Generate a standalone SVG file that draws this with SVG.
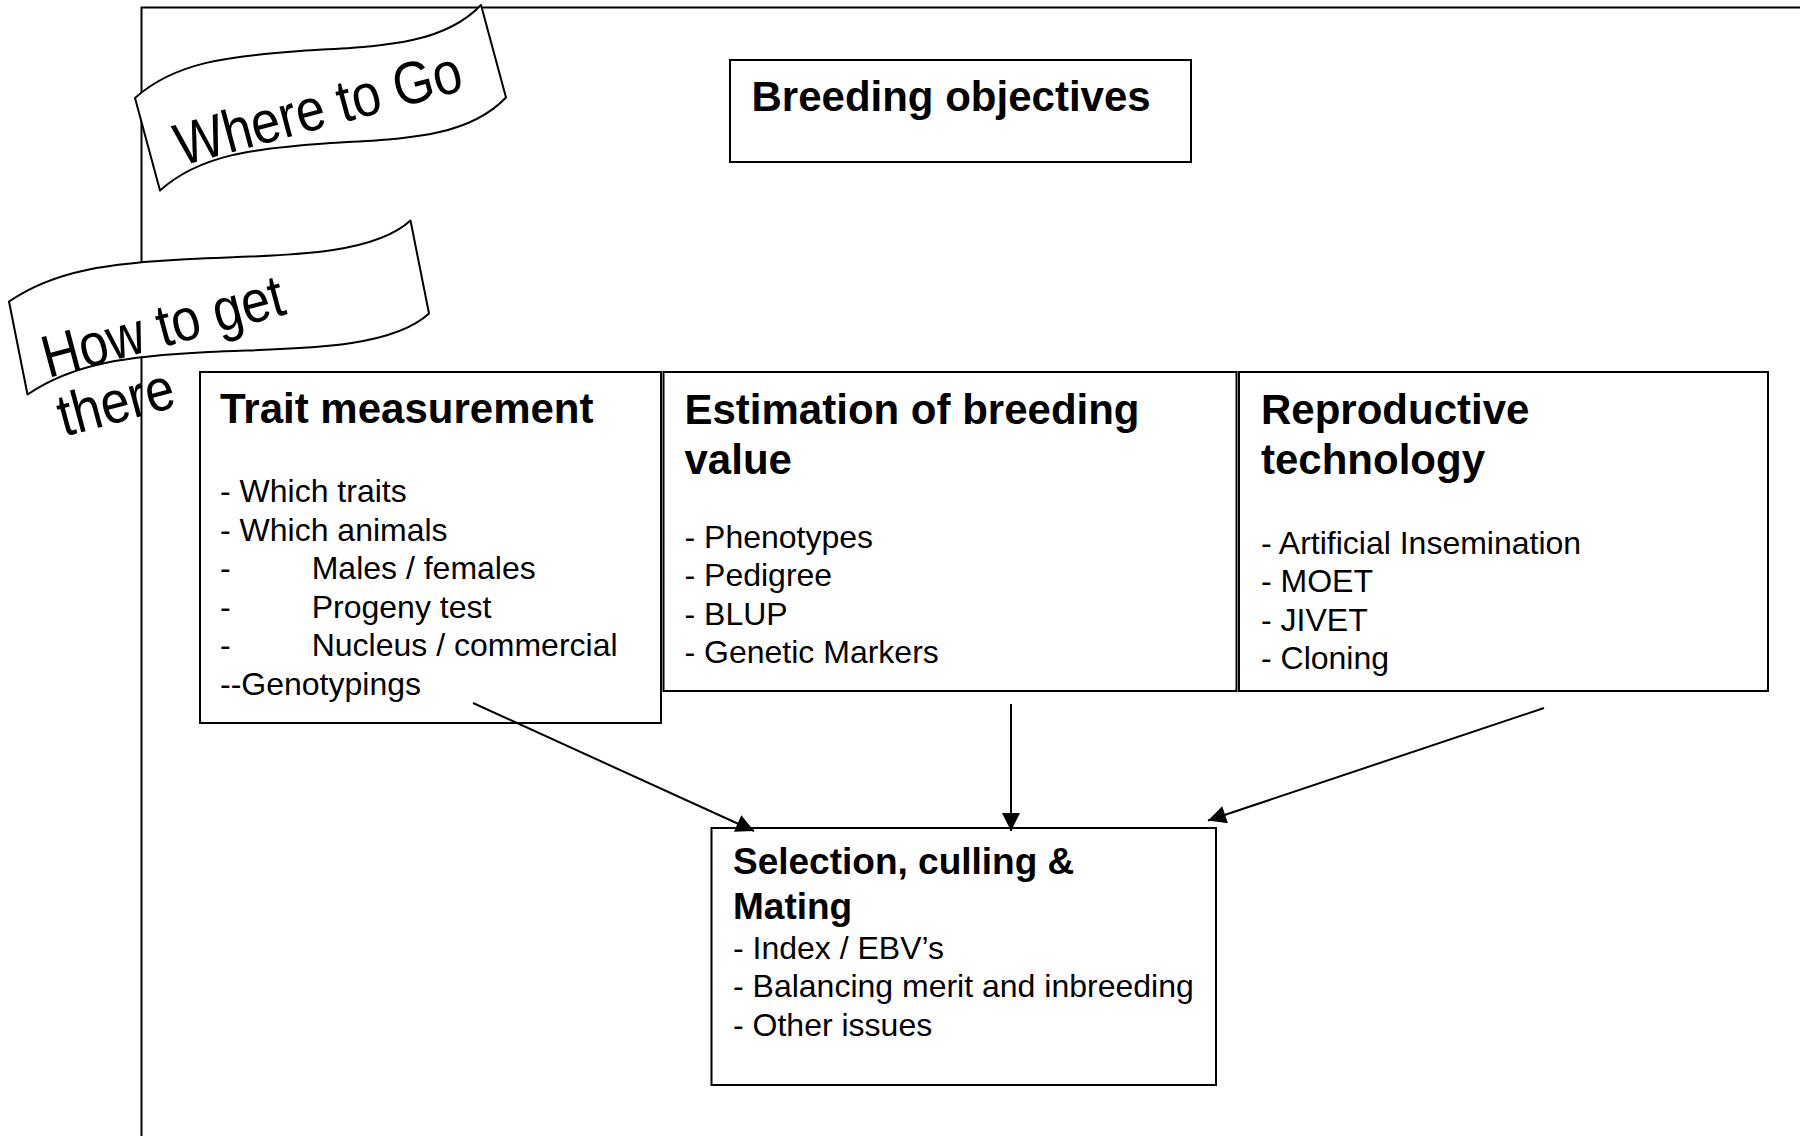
<svg xmlns="http://www.w3.org/2000/svg" width="1800" height="1136" viewBox="0 0 1800 1136">
<defs>
<marker id="arrow" viewBox="0 0 10 10" refX="10" refY="5" markerWidth="9.5" markerHeight="9" markerUnits="strokeWidth" orient="auto">
<path d="M0,0 L10,5 L0,10 Z" fill="#000"/>
</marker>
<style>
text{font-family:"Liberation Sans",Arial,Helvetica,sans-serif;fill:#000}
.box{fill:#fff;stroke:#000;stroke-width:2}
.frame{fill:none;stroke:#000;stroke-width:2}
.banner{fill:#fff;stroke:#000;stroke-width:2;stroke-linejoin:round}
.ttl{font-weight:bold;font-size:42px}
.ttl2{font-weight:bold;font-size:37px}
.item{font-size:32px}
.ban{font-size:52px}
.conn{stroke:#000;stroke-width:2;fill:none;marker-end:url(#arrow)}
</style>
</defs>
<rect width="1800" height="1136" fill="#fff"/>
<g id="frame">
<path class="frame" d="M141.5,1136 L141.5,7.5 L1800,7.5"/>
</g>
<g id="where-to-go">
<path class="banner" d="M135,98 C175,62 230,56 300,51 C370,46 440,48 481,5 L506,97.5 C465,140.5 395,138.5 325,143.5 C255,148.5 200,154.5 160,190.5 Z"/>
<text class="ban" transform="translate(181,166) rotate(-15) scale(1,1.15)">Where to Go</text>
</g>
<g id="how-to-get-there">
<path class="banner" d="M9,301.5 C55,270 110,263 190,259 C270,255 370,258 410.5,220.5 L429,313.5 C388.5,351 288.5,348 208.5,352 C128.5,356 73.5,363 27.5,394.5 Z"/>
<text class="ban" transform="translate(48,378) rotate(-15) scale(1,1.15)"><tspan x="0" y="0">How to get</tspan><tspan x="0" y="53">there</tspan></text>
</g>
<g id="breeding-objectives">
<rect class="box" x="730" y="60" width="461" height="102"/>
<text class="ttl" x="751.5" y="111">Breeding objectives</text>
</g>
<g id="trait-measurement">
<rect class="box" x="200" y="372" width="461" height="351"/>
<text class="ttl" x="220" y="423">Trait measurement</text>
<text class="item" x="220" y="502">- Which traits</text>
<text class="item" x="220" y="540.5">- Which animals</text>
<text class="item" x="220" y="579">-</text>
<text class="item" x="311.7" y="579">Males / females</text>
<text class="item" x="220" y="617.5">-</text>
<text class="item" x="311.7" y="617.5">Progeny test</text>
<text class="item" x="220" y="656">-</text>
<text class="item" x="311.7" y="656">Nucleus / commercial</text>
<text class="item" x="220" y="694.5">--Genotypings</text>
</g>
<g id="estimation-breeding-value">
<rect class="box" x="663.5" y="372" width="573" height="319"/>
<text class="ttl" x="684.5" y="424">Estimation of breeding</text>
<text class="ttl" x="684.5" y="473.5">value</text>
<text class="item" x="684.5" y="547.5">- Phenotypes</text>
<text class="item" x="684.5" y="586">- Pedigree</text>
<text class="item" x="684.5" y="624.5">- BLUP</text>
<text class="item" x="684.5" y="663">- Genetic Markers</text>
</g>
<g id="reproductive-technology">
<rect class="box" x="1239" y="372" width="529" height="319"/>
<text class="ttl" x="1261" y="424">Reproductive</text>
<text class="ttl" x="1261" y="473.5">technology</text>
<text class="item" x="1261" y="553.5">- Artificial Insemination</text>
<text class="item" x="1261" y="592">- MOET</text>
<text class="item" x="1261" y="630.5">- JIVET</text>
<text class="item" x="1261" y="669">- Cloning</text>
</g>
<g id="selection-culling-mating">
<rect class="box" x="711.5" y="828" width="504.5" height="257"/>
<text class="ttl2" x="733" y="874">Selection, culling &amp;</text>
<text class="ttl2" x="733" y="919">Mating</text>
<text class="item" x="733" y="958.5">- Index / EBV’s</text>
<text class="item" x="733" y="997">- Balancing merit and inbreeding</text>
<text class="item" x="733" y="1035.5">- Other issues</text>
</g>
<g id="connectors">
<line class="conn" x1="473" y1="703" x2="754" y2="831"/>
<line class="conn" x1="1011" y1="704" x2="1011" y2="831"/>
<line class="conn" x1="1544" y1="708" x2="1208" y2="820.5"/>
</g>
</svg>
